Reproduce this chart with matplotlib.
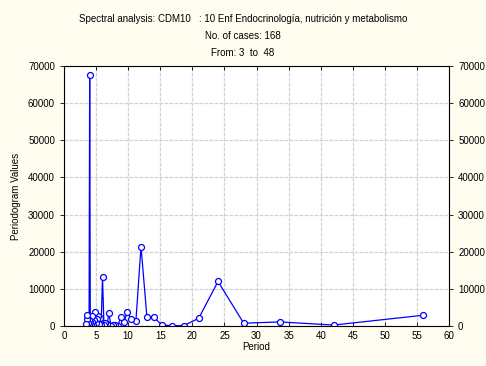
import numpy as np
import matplotlib
matplotlib.use("Agg")
import matplotlib.pyplot as plt

plt.rcParams['font.family'] = ['Liberation Sans', 'DejaVu Sans']

n_cases = 168
harmonics = list(range(3, 49))
# periodogram values for harmonics k = 3 .. 48
periodogram = [
    2900, 250, 1100, 750, 12000, 2100, 100, 80, 250, 2300,
    2300, 21400, 1300, 1900, 3800, 1100, 2400, 100, 300, 200,
    100, 3600, 500, 800, 300, 13200, 400, 2100, 600, 2800,
    2000, 800, 3800, 1500, 200, 1200, 2600, 400, 1000, 67700,
    1500, 300, 800, 1900, 3000, 600,
]
periods = [n_cases / k for k in harmonics]

title_lines = [
    "Spectral analysis: CDM10   : 10 Enf Endocrinología, nutrición y metabolismo",
    "No. of cases: 168",
    "From: 3  to  48",
]

fig = plt.figure(figsize=(4.86, 3.66), dpi=100, facecolor='#fffcf0')
ax = fig.add_axes([0.1317, 0.1093, 0.924 - 0.1317, 0.8197 - 0.1093])
ax.set_facecolor('white')

ax.plot(periods, periodogram, color='#0000ff', lw=0.9, marker='o',
        markersize=4.3, markerfacecolor='white', markeredgecolor='#0000ff',
        markeredgewidth=0.9)

ax.set_xlim(0, 60)
ax.set_ylim(0, 70000)
ax.set_xticks(np.arange(0, 61, 5))
ax.set_yticks(np.arange(0, 70001, 10000))
ax.grid(True, color='#d2d2d2', lw=0.9, ls=(0, (3, 1)))
ax.set_axisbelow(True)

ax.tick_params(axis='both', labelsize=7, length=3, width=0.6, color='black',
               top=True, right=True, labelright=True, direction='out')
ax.tick_params(axis='x', top=True, direction='in')
for s in ax.spines.values():
    s.set_linewidth(0.8)
    s.set_color('black')

ax.set_xlabel('Period', fontsize=7, labelpad=1)
ax.set_ylabel('Periodogram Values', fontsize=7, labelpad=5)

for i, line in enumerate(title_lines):
    fig.text(0.5, 1 - (19 + 17 * i) / 366, line, ha='center', va='center',
             fontsize=7)

fig.savefig('out.png', dpi=100, facecolor=fig.get_facecolor())
